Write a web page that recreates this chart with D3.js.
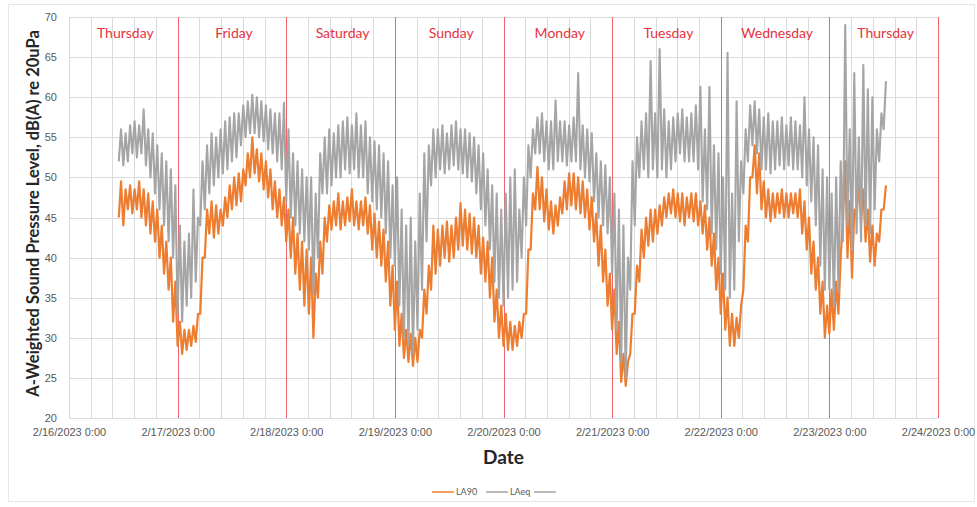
<!DOCTYPE html>
<html>
<head>
<meta charset="utf-8">
<script src="https://cdn.jsdelivr.net/npm/d3@7"></script>
<style>
  body { margin: 0; background: #fff; }
  svg { font-family: Lato, "Open Sans", sans-serif; }
  .axis .domain { display: none; }
  .axis text { fill: #595959; font-size: 11px; }
</style>
</head>
<body>
<div class="chart"></div>
<script>
// readings are hourly from 2/16/2023 11:00 to 2/23/2023 12:00
// each hour holds a low and a high reading (the noisy band seen in the chart)
const firstHour = 11;
const dayNames = ["Thursday", "Friday", "Saturday", "Sunday", "Monday", "Tuesday", "Wednesday", "Thursday"];
const yTicks = [20, 25, 30, 35, 40, 45, 50, 55, 60, 65, 70];

const la90Lo = [
  45, 44, 46, 45.5, 46, 45, 44, 43, 42, 40, 38, 36, 32,
  29, 28, 28.5, 29, 29.5, 33, 40, 43, 42.5, 43, 44, 45, 46, 46.5, 47, 49, 50, 50.5, 49.5, 48.5, 47.5, 46, 45, 44,
  42, 40, 38, 36, 34, 33, 30, 35, 38, 42, 43.5, 44, 43.5, 44, 44.5, 44, 43.5, 44, 43, 41, 40, 39, 37, 34,
  31, 29, 27.5, 27, 26.5, 27, 30, 33, 36, 38, 39, 40, 39.5, 40, 41, 41.5, 41, 40.5, 40, 38, 37, 35, 32, 30,
  29, 28.5, 28.5, 29, 30, 33, 41, 46, 46, 44.5, 43.5, 43, 44, 45.5, 46, 46.5, 46, 45.5, 45, 43.5, 42, 39, 37, 34,
  31, 28, 24.5, 24, 28, 33, 37, 40, 41.5, 42, 43, 44, 45, 45.5, 45, 44.5, 44, 45, 44.5, 44, 43, 41, 39, 36,
  33, 31, 29, 29, 30, 36, 42, 50, 48, 46, 45, 44.5, 45, 45.5, 45, 45, 45.5, 45, 43, 41, 38, 36, 33, 30,
  30.5, 31, 33, 45, 40, 37.5, 45, 44.5, 42, 39.5, 39, 42, 46
];
const la90Hi = [
  49.5, 48.5, 49, 48.5, 49.5, 48.5, 48, 47, 46, 44, 42, 40, 37,
  32, 31, 31, 31.5, 33, 40, 46, 47, 46.5, 46, 47.5, 49, 50, 50.5, 51, 53, 55, 53.5, 53, 52, 51, 49.5, 48.5, 47.5,
  46, 45, 43, 42, 41, 40, 38, 42, 45, 46.5, 47, 48, 47, 47.5, 48.5, 47, 47, 47.5, 46.5, 45.5, 44.5, 43.5, 42, 39,
  37, 33, 31, 30.5, 30, 31, 36, 39, 44, 43.5, 44, 44.5, 44, 45, 46.8, 46, 45.5, 45, 44, 42.5, 42, 40, 36, 34,
  33, 32, 31.5, 32, 33, 41, 48, 51.3, 50, 48.5, 47, 46.5, 47.5, 49.5, 50.5, 50.5, 50, 49.5, 48.5, 47.5, 45.5, 44, 41, 38,
  36, 32, 28, 27, 33, 39, 43.5, 45, 46, 46, 46.5, 47.5, 48, 48.5, 48, 48, 47.5, 48, 48, 47, 46.5, 45, 43, 40,
  38, 35, 33, 32.5, 34, 44, 50, 54, 53, 49.5, 48.5, 48, 48, 48.5, 48, 48, 48, 48.5, 47, 45, 42, 40, 37, 34,
  36, 37, 40, 52, 47, 46, 49.5, 48.5, 46, 44, 43, 46, 49
];
const laeqLo = [
  52, 51.5, 52, 53, 52.5, 53, 51.5, 50, 48, 46, 44, 42, 40,
  33, 32, 34, 35, 37, 44, 46, 48, 49, 50, 50.5, 51, 52, 52.5, 54, 55, 55.5, 55.5, 55, 54.5, 53.5, 53, 52, 51,
  47, 45, 44, 43, 42, 41, 35.5, 40, 48, 48, 49, 50, 50, 51, 50.5, 51, 50, 50, 48, 47, 46, 45, 43, 40,
  39, 34, 30, 29, 28, 31, 36, 42, 49, 50, 51, 50.5, 51, 51.5, 51, 50.5, 50, 49.5, 48, 46, 44, 41, 37, 35,
  34, 35, 36, 37, 40, 44, 50, 53, 53, 52, 51, 51, 52, 52, 51.5, 52, 52, 51, 50, 49.5, 47, 45, 44, 43,
  38, 31, 27, 25, 36, 44, 50, 51, 50, 51, 50, 51, 50, 51, 52, 53, 52, 52, 52, 51, 47, 46, 43, 41,
  38, 36, 35, 36, 42, 48, 52, 54, 53, 51, 51, 50.5, 51, 51.5, 51, 51.5, 51, 51, 50, 49, 47, 44, 39, 36,
  36, 34, 36, 42, 44, 41, 43, 42, 44, 43, 46, 52, 56
];
const laeqHi = [
  56, 55.5, 56.5, 57, 56.5, 58.5, 56, 55.5, 54, 53, 52, 51, 49,
  44, 42, 43, 48.5, 45, 52, 54, 55.5, 55, 56, 57, 57.5, 58, 58, 59, 59.5, 60.3, 60, 59.5, 59, 58.5, 58, 58, 59.3,
  56, 53, 52, 51, 50, 50, 48, 53, 55, 56, 55.5, 56.5, 57, 57.5, 56.5, 58, 56.5, 57, 55, 54.5, 54, 53, 52, 49,
  50, 46, 44, 45, 42, 48, 53, 54, 56, 56, 56.5, 55.5, 56.5, 57, 56, 56, 55.5, 55, 54, 53, 51, 49, 48, 46,
  48, 50, 51, 46, 50, 54, 56, 57.5, 58, 57, 57, 59.6, 57, 57, 56.5, 57.5, 63, 56.5, 56, 55.5, 53, 52, 51.5, 50,
  48, 46, 44, 40, 52, 55, 57, 58, 64.5, 58, 66, 58.5, 57, 57.5, 58, 58.5, 57.5, 58, 59, 61.3, 56, 61.3, 54, 53,
  50, 65.5, 48, 59.5, 52, 56, 59, 59.5, 58.5, 57.5, 58, 57, 57, 57.5, 56.5, 57.5, 57, 56.5, 60, 56, 55, 54, 51, 50,
  48, 50, 52, 69, 56, 63, 55, 64, 61, 60, 56, 58, 62
];

const W = 977, H = 507;
const margin = {top: 17, right: 39, bottom: 89, left: 69};
const w = W - margin.left - margin.right;
const h = H - margin.top - margin.bottom;

const t0 = new Date(2023, 1, 16);
const t1 = new Date(2023, 1, 24);

const root = d3.select(".chart").append("svg")
    .attr("width", W)
    .attr("height", H);

// faint chart border
root.append("rect")
    .attr("x", 8.5).attr("y", 4.5)
    .attr("width", 966).attr("height", 497)
    .attr("fill", "none")
    .attr("stroke", "#e6e6e6");

const svg = root.append("g")
    .attr("transform", "translate(" + margin.left + "," + margin.top + ")");

const xScale = d3.scaleTime().domain([t0, t1]).range([0, w]);
const yScale = d3.scaleLinear().domain([20, 70]).range([h, 0]);
const px = v => Math.round(v) + 0.5;   // crisp 1px lines

// gridlines: horizontal every 5 dB, vertical every 0.2 day
const gridTimes = d3.range(0, 41).map(k => d3.timeMinute.offset(t0, k * 288));
const grid = svg.append("g").attr("stroke", "#dadada").attr("stroke-width", 1);
grid.selectAll(".hy").data(yTicks).join("line")
    .attr("x1", 0).attr("x2", w)
    .attr("y1", d => px(yScale(d))).attr("y2", d => px(yScale(d)));
grid.selectAll(".vx").data(gridTimes).join("line")
    .attr("x1", d => px(xScale(d))).attr("x2", d => px(xScale(d)))
    .attr("y1", 0).attr("y2", h);

// red day boundaries
const days = d3.timeDay.range(t0, d3.timeDay.offset(t1, 1));
svg.append("g").selectAll("line")
    .data(days.slice(1))
    .join("line")
    .attr("x1", d => px(xScale(d))).attr("x2", d => px(xScale(d)))
    .attr("y1", 0).attr("y2", h)
    .attr("stroke", "#f0636a")
    .attr("stroke-width", 1);

// day names centred on noon
svg.append("g").selectAll("text")
    .data(dayNames)
    .join("text")
    .attr("x", (d, i) => xScale(d3.timeHour.offset(t0, i * 24 + 12)) + 2)
    .attr("y", 21)
    .attr("text-anchor", "middle")
    .attr("fill", "#e5323f")
    .style("font-size", "14px")
    .text(d => d);

// build points: low at the hour, high at half past
function toPoints(lo, hi) {
    var pts = [];
    lo.forEach((v, i) => {
        var t = d3.timeHour.offset(t0, firstHour + i);
        pts.push({date: t, value: v});
        pts.push({date: d3.timeMinute.offset(t, 30), value: hi[i]});
    });
    return pts;
}

const line = d3.line()
    .x(d => xScale(d.date))
    .y(d => yScale(d.value));

svg.append("path")
    .datum(toPoints(la90Lo, la90Hi))
    .attr("fill", "none")
    .attr("stroke", "#ed7d31")
    .attr("stroke-width", 2.2)
    .attr("stroke-linejoin", "round")
    .attr("d", line);

svg.append("path")
    .datum(toPoints(laeqLo, laeqHi))
    .attr("fill", "none")
    .attr("stroke", "#a5a5a5")
    .attr("stroke-width", 2.1)
    .attr("stroke-linejoin", "round")
    .attr("d", line);

// axes
const fmt = d3.timeFormat("%-m/%-d/%Y %-H:%M");
svg.append("g").attr("class", "axis")
    .attr("transform", "translate(0," + h + ")")
    .call(d3.axisBottom(xScale).tickValues(days).tickSize(0).tickPadding(10).tickFormat(fmt));
svg.append("g").attr("class", "axis")
    .call(d3.axisLeft(yScale).tickValues(yTicks).tickSize(0).tickPadding(12));

// titles
svg.append("text")
    .attr("x", w / 2).attr("y", h + 46)
    .attr("text-anchor", "middle")
    .style("font-size", "19px").style("font-weight", "bold")
    .attr("fill", "#262626")
    .text("Date");

svg.append("text")
    .attr("transform", "translate(-30," + (h / 2 - 4) + ") rotate(-90)")
    .attr("text-anchor", "middle")
    .style("font-size", "16.5px").style("font-weight", "bold")
    .attr("fill", "#262626")
    .text("A-Weighted Sound Pressure Level, dB(A) re 20uPa");

// legend
const legendItems = [
    {label: "LA90", color: "#ed7d31", x: 432},
    {label: "LAeq", color: "#a5a5a5", x: 486},
    {label: "", color: "#a5a5a5", x: 534}
];
const legend = root.append("g");
legendItems.forEach(d => {
    legend.append("line")
        .attr("x1", d.x).attr("x2", d.x + 22)
        .attr("y1", 492).attr("y2", 492)
        .attr("stroke", d.color).attr("stroke-width", 1.5);
    legend.append("text")
        .attr("x", d.x + 24).attr("y", 495)
        .attr("fill", "#595959")
        .style("font-size", "9px")
        .text(d.label);
});
</script>
</body>
</html>
